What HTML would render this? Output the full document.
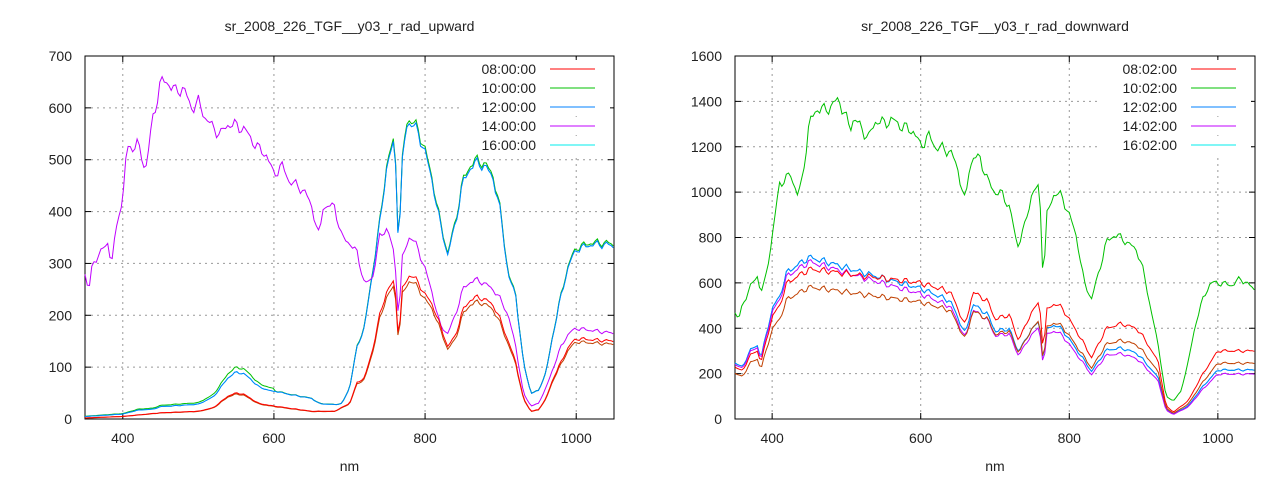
<!DOCTYPE html><html><head><meta charset="utf-8"><style>
html,body{margin:0;padding:0;background:#fff;width:1280px;height:480px;overflow:hidden}
svg{font-family:"Liberation Sans",sans-serif}
</style></head><body>
<svg id="s" width="1280" height="480" xmlns="http://www.w3.org/2000/svg"></svg>
<script>
const S=document.getElementById('s');let h='';
function interp(d,x){for(let i=0;i<d.length-1;i++){if(x>=d[i][0]&&x<=d[i+1][0]){const t=(x-d[i][0])/(d[i+1][0]-d[i][0]);return d[i][1]+t*(d[i+1][1]-d[i][1]);}}return d[d.length-1][1];}
const nz=x=>1+0.015*Math.sin(x*1.7)+0.01*Math.sin(x*0.63+1);
function plot(P){
 const {x0,x1,y0,y1,ymax,ystep,title,legend}=P;
 const X=v=>x0+(v-350)/700*(x1-x0), Y=v=>y1-(v/ymax)*(y1-y0);
 for(let v=400;v<=1000;v+=200){h+=`<line x1="${X(v)}" x2="${X(v)}" y1="${y0}" y2="${y1}" stroke="#999" stroke-dasharray="2,4"/>`;
  h+=`<text x="${X(v)}" y="${y1+24}" font-size="14" text-anchor="middle" fill="#222">${v}</text>`;
  h+=`<line x1="${X(v)}" x2="${X(v)}" y1="${y1}" y2="${y1-6}" stroke="#000"/><line x1="${X(v)}" x2="${X(v)}" y1="${y0}" y2="${y0+6}" stroke="#000"/>`;}
 for(let v=0;v<=ymax;v+=ystep){const y=Y(v);if(v>0&&v<ymax)h+=`<line x1="${x0}" x2="${x1}" y1="${y}" y2="${y}" stroke="#999" stroke-dasharray="2,4"/>`;
  h+=`<text x="${x0-13}" y="${y+5}" font-size="14" text-anchor="end" fill="#222">${v}</text>`;
  h+=`<line x1="${x0}" x2="${x0+6}" y1="${y}" y2="${y}" stroke="#000"/><line x1="${x1}" x2="${x1-6}" y1="${y}" y2="${y}" stroke="#000"/>`;}
 h+=`<rect x="${x0}" y="${y0}" width="${x1-x0}" height="${y1-y0}" fill="#fff" fill-opacity="0" stroke="#000"/>`;
 h+=`<text x="${(x0+x1)/2}" y="31" font-size="14" text-anchor="middle" fill="#222">${title}</text>`;
 h+=`<text x="${(x0+x1)/2}" y="471" font-size="14" text-anchor="middle" fill="#222">nm</text>`;
 const cols=['#ff0000','#00c000','#0080ff','#c000ff','#00eeee'];
 legend.forEach((t,i)=>{const y=69+i*19;const lx=x1-64;
  h+=`<rect x="${lx-90}" y="${y-9}" width="150" height="18" fill="#fff"/>`;
  h+=`<text x="${lx-14}" y="${y+5}" font-size="14" text-anchor="end" fill="#222">${t}</text>`;
  h+=`<line x1="${lx}" x2="${lx+45}" y1="${y}" y2="${y}" stroke="${cols[i]}"/>`;});
 P.series.forEach(s=>{let p='';for(let x=350;x<=1050;x+=3){const v=s.f(x)*nz(x);p+=(p?'L':'M')+X(x).toFixed(1)+','+Math.max(y0,Y(v)).toFixed(1);}
  h+=`<path d="${p}" fill="none" stroke="${s.c}" stroke-width="1"/>`;});
}
const LG=[[350,5],[400,10],[420,18],[440,20],[450,25],[480,28],[500,30],[520,45],[540,85],[550,95],[560,92],[570,80],[580,65],[600,55],[620,48],[650,40],[660,30],[680,28],[690,30],[700,60],[710,140],[720,180],[730,280],[740,380],[750,500],[760,540],[765,330],[770,500],[775,570],[780,580],[790,560],[800,520],[810,460],[820,380],[830,320],[840,380],[850,460],[860,490],[870,500],[880,490],[890,470],[900,400],[910,280],[920,240],[930,110],[940,50],[950,55],[960,90],[970,170],[980,240],[990,300],[1000,330],[1020,340],[1040,340],[1050,335]];
const LR=[[350,2],[400,5],[450,12],[500,15],[520,22],[540,45],[550,50],[560,48],[580,30],[600,25],[650,15],[680,15],[700,30],[710,70],[720,80],[730,130],[740,200],[750,250],[760,265],[765,150],[770,250],[780,280],[790,265],[800,240],[810,220],[820,180],[830,140],[840,160],[850,210],[860,230],[870,235],[880,230],[890,220],[900,190],[910,150],[920,110],[930,40],[940,15],[950,18],[960,40],[970,80],[980,110],[990,140],[1000,155],[1050,150]];
const LM=[[350,280],[355,245],[360,300],[380,340],[385,300],[395,400],[400,420],[405,520],[420,530],[430,480],[440,580],[450,650],[460,650],[470,630],[480,640],[490,600],[500,610],[510,580],[520,560],[530,550],[540,570],[560,560],[570,540],[580,520],[590,510],[600,470],[610,490],[620,460],[640,440],[650,410],[660,350],[665,410],[680,410],[690,350],[700,340],[710,320],[720,260],[730,270],[740,350],[750,370],[760,310],[765,190],[770,310],[780,355],[790,330],[800,290],[810,240],[820,180],[830,165],[840,200],[850,250],[860,265],[870,268],[880,260],[890,250],[900,230],[910,200],[920,140],[930,50],[940,25],[950,30],[960,60],[970,100],[980,140],[990,165],[1000,175],[1050,165]];
const bl=x=>interp(LG,x)*(x<600?0.95:0.99);
plot({x0:85,x1:614,y0:56,y1:419,ymax:700,ystep:100,title:'sr_2008_226_TGF__y03_r_rad_upward',legend:['08:00:00','10:00:00','12:00:00','14:00:00','16:00:00'],
series:[{c:'#00eeee',f:bl},{c:'#00c000',f:x=>interp(LG,x)*(x<600?1.05:1)},{c:'#0080ff',f:bl},
{c:'#c000ff',f:x=>interp(LM,x)},{c:'#c04000',f:x=>interp(LR,x)*0.96},{c:'#ff0000',f:x=>interp(LR,x)}]});
const RG=[[350,470],[355,440],[360,500],[370,580],[380,630],[385,560],[390,600],[400,800],[410,1040],[420,1060],[425,1080],[435,980],[440,1050],[450,1300],[460,1370],[470,1360],[480,1380],[490,1410],[500,1320],[505,1280],[510,1330],[520,1280],[530,1240],[540,1320],[550,1300],[560,1320],[570,1300],[580,1280],[590,1270],[600,1200],[610,1250],[620,1200],[640,1180],[650,1100],[660,950],[665,1100],[670,1150],[680,1150],[690,1050],[700,1000],[710,990],[720,930],[730,760],[740,850],[750,1000],[760,1020],[765,600],[770,900],[780,1000],[790,980],[800,900],[810,800],[820,600],[830,530],[840,650],[850,780],[860,810],[870,800],[880,770],[890,750],[900,650],[910,480],[920,320],[930,100],[940,80],[950,120],[960,250],[970,420],[980,530],[990,600],[1000,600],[1020,590],[1030,620],[1050,570]];
const RR=[[350,230],[360,210],[370,280],[380,300],[385,250],[400,450],[410,500],[420,600],[440,640],[450,660],[480,650],[500,640],[550,620],[600,600],[640,560],[660,410],[670,560],[690,520],[700,440],[710,450],[720,460],[730,350],[740,400],[750,480],[760,510],[765,300],[770,480],[780,510],[790,490],[800,440],[820,330],[830,270],[850,400],[870,420],[890,400],[900,360],[920,250],[930,60],[940,30],[960,80],[980,200],[1000,300],[1050,300]];
const fac=(x,a,b)=>{const t=Math.min(1,Math.max(0,(x-450)/450));return a+(b-a)*t;};
const rb=x=>interp(RR,x)*fac(x,1.08,0.72);
plot({x0:735,x1:1255,y0:56,y1:419,ymax:1600,ystep:200,title:'sr_2008_226_TGF__y03_r_rad_downward',legend:['08:02:00','10:02:00','12:02:00','14:02:00','16:02:00'],
series:[{c:'#00eeee',f:rb},{c:'#0080ff',f:rb},{c:'#c000ff',f:x=>interp(RR,x)*fac(x,1.05,0.66)},
{c:'#c04000',f:x=>interp(RR,x)*fac(x,0.88,0.82)},{c:'#ff0000',f:x=>interp(RR,x)},{c:'#00c000',f:x=>interp(RG,x)}]});
S.innerHTML=h;
</script></body></html>
